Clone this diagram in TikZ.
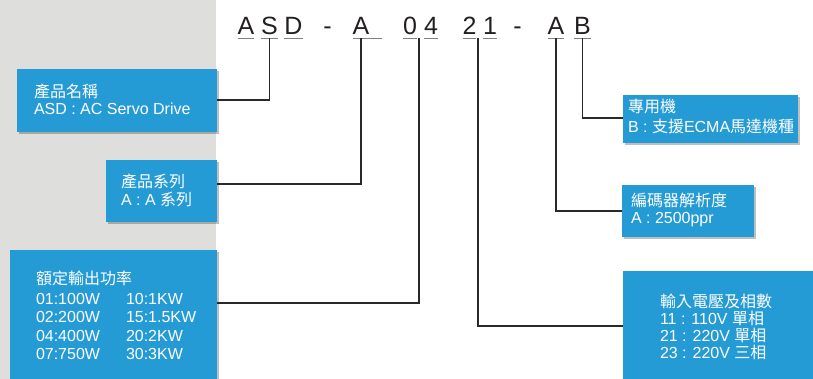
\documentclass[tikz,border=0pt]{standalone}
\usepackage{fontspec}
\setmainfont{Liberation Sans}
\newfontfamily\cjk{Noto Sans CJK TC}
\usetikzlibrary{shadows}
\definecolor{boxblue}{RGB}{37,155,214}
\definecolor{bggray}{RGB}{222,222,221}
\definecolor{conncol}{RGB}{45,40,40}
\definecolor{ulcol}{RGB}{128,128,128}
\definecolor{codecol}{RGB}{35,31,32}
\begin{document}
\begin{tikzpicture}[x=1pt,y=-1pt,
  box/.style={fill=boxblue, draw=none, inner sep=0pt, outer sep=0pt, anchor=north west,
    drop shadow={shadow xshift=2pt, shadow yshift=-2pt, opacity=0.25, fill=black}},
  code/.style={anchor=base, inner sep=0pt, outer sep=0pt, font=\fontsize{25}{25}\selectfont, text=codecol},
  txt/.style={anchor=base west, inner sep=0pt, outer sep=0pt, text=white, font=\fontsize{16}{16}\selectfont},
  conn/.style={draw=conncol, line width=1.1pt},
  uline/.style={draw=ulcol, line width=0.9pt}]
\useasboundingbox (0,0) rectangle (813,379);
\fill[bggray] (0,0) rectangle (216,379);

% code letters
\node[code] (lA)  at (246,35)   {A};
\node[code] (lS)  at (269.5,35) {S};
\node[code] (lD)  at (293.5,35) {D};
\node[code] (d1)  at (327.5,35) {-};
\node[code] (lA2) at (361,35)   {A};
\node[code] (l0)  at (410,35)   {0};
\node[code] (l4)  at (431,35)   {4};
\node[code] (l2)  at (469.5,35) {2};
\node[code] (l1)  at (490,35)   {1};
\node[code] (d2)  at (517.5,35) {-};
\node[code] (lA3) at (556,35)   {A};
\node[code] (lB)  at (582.5,35) {B};
\foreach \n in {lA,lS,lD,l0,l4,l2,l1,lA3,lB}
  \draw[uline] ([yshift=-3pt]\n.base west) -- ([yshift=-3pt]\n.base east);
\draw[uline] ([yshift=-3pt]lA2.base west) -- ([xshift=13pt,yshift=-3pt]lA2.base east);

% boxes
\node[box, minimum width=200pt, minimum height=63pt]  (b1) at (17,69)  {};
\node[box, minimum width=111pt, minimum height=62pt]  (b2) at (106,160) {};
\node[box, minimum width=207pt, minimum height=129pt] (b3) at (10,250) {};
\node[box, minimum width=175pt, minimum height=48pt]  (b4) at (623,95) {};
\node[box, minimum width=132pt, minimum height=52pt]  (b5) at (622,185) {};
\node[box, minimum width=190pt, minimum height=108pt] (b6) at (623,271) {};

% texts
\node[txt] (t1a) at (34,98)  {\cjk 產品名稱};
\node[txt] (t1b) at (34,115) {ASD : AC Servo Drive};
\node[txt] (t2a) at (121,188) {\cjk 產品系列};
\node[txt] (t2b) at (121,206) {A : A {\cjk 系列}};
\node[txt] (t3a) at (36,284) {\cjk 額定輸出功率};
\node[txt] (t3b) at (36,304)   {01:100W};
\node[txt] (t3c) at (36,322.5) {02:200W};
\node[txt] (t3d) at (36,341)   {04:400W};
\node[txt] (t3e) at (36,359)   {07:750W};
\node[txt] (t3f) at (126,304)   {10:1KW};
\node[txt] (t3g) at (126,322.5) {15:1.5KW};
\node[txt] (t3h) at (126,341)   {20:2KW};
\node[txt] (t3i) at (126,359)   {30:3KW};
\node[txt] (t4a) at (628,113) {\cjk 專用機};
\node[txt] (t4b) at (628,133) {B : {\cjk 支援}ECMA{\cjk 馬達機種}};
\node[txt] (t5a) at (631,207) {\cjk 編碼器解析度};
\node[txt] (t5b) at (631,224) {A : 2500ppr};
\node[txt] (t6a) at (660,307) {\cjk 輸入電壓及相數};
\node[txt] (t6b) at (660,324) {11 : 110V {\cjk 單相}};
\node[txt] (t6c) at (660,341) {21 : 220V {\cjk 單相}};
\node[txt] (t6d) at (660,358) {23 : 220V {\cjk 三相}};

% connectors
\draw[conn] ([yshift=-3pt]lS.base) |- (b1.east |- 0,100);
\draw[conn] ([yshift=-3pt]lA2.base) |- (b2.east |- 0,184);
\draw[conn] ([xshift=2pt,yshift=-3pt]l0.base east) |- (b3.east |- 0,303);
\draw[conn] ([xshift=1.5pt,yshift=-3pt]l2.base east) |- (b6.west |- 0,326);
\draw[conn] ([yshift=-3pt]lA3.base) |- (b5.west |- 0,211);
\draw[conn] ([yshift=-3pt]lB.base) |- (b4.west |- 0,118);
\end{tikzpicture}
\end{document}
